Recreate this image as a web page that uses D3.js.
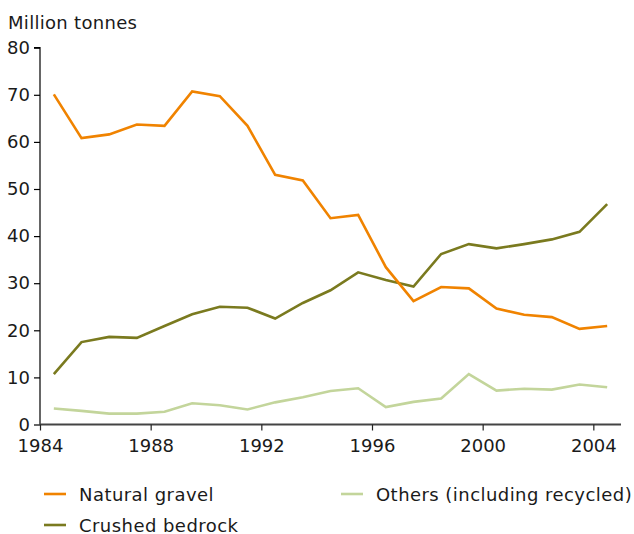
<!DOCTYPE html>
<html>
<head>
<meta charset="utf-8">
<script src="https://cdn.jsdelivr.net/npm/d3@7"></script>
<style>
  body { margin: 0; background: #fff; }
  svg text { font-family: "DejaVu Sans", Verdana, sans-serif; fill: #1a1a1a; }
</style>
</head>
<body>
<svg id="chart" width="634" height="534"></svg>
<script>
const years = d3.range(1984, 2005);
const naturalGravel = [70.1, 60.8, 61.6, 63.7, 63.4, 70.7, 69.7, 63.4, 53.0, 51.8, 43.8, 44.5, 33.4, 26.2, 29.2, 28.9, 24.6, 23.3, 22.8, 20.3, 20.9];
const crushedBedrock = [10.7, 17.5, 18.6, 18.4, 20.9, 23.4, 25.0, 24.8, 22.5, 25.8, 28.5, 32.3, 30.7, 29.3, 36.2, 38.3, 37.4, 38.3, 39.3, 40.9, 46.8];
const others = [3.4, 2.9, 2.3, 2.3, 2.7, 4.5, 4.1, 3.2, 4.7, 5.8, 7.1, 7.7, 3.7, 4.8, 5.5, 10.7, 7.2, 7.6, 7.4, 8.5, 7.9];
const seriesNames = ["Natural gravel", "Crushed bedrock", "Others (including recycled)"];
const seriesColors = ["#f08300", "#7a7a1f", "#c3d59b"];
const xTicks = [1984, 1988, 1992, 1996, 2000, 2004];
const yTicks = [0, 10, 20, 30, 40, 50, 60, 70, 80];
const yTitle = "Million tonnes";

const FS = "18px";
const svg = d3.select("#chart");
const margin = {left: 40, right: 13, top: 47.7, bottom: 109.5};
const W = 634, H = 534;
const x = d3.scaleLinear().domain([1984, 2005]).range([margin.left, W - margin.right]);
const y = d3.scaleLinear().domain([0, 80]).range([H - margin.bottom, margin.top]);

// y axis
const yAxis = svg.append("g")
  .attr("transform", `translate(${margin.left},0)`)
  .call(d3.axisLeft(y).tickValues(yTicks).tickSize(6).tickPadding(4).tickFormat(d3.format("d")));
yAxis.select(".domain").attr("stroke", "#000").attr("stroke-width", 1.2).attr("d", `M-6,${y(80)}H0V${y(0)}`);
yAxis.selectAll(".tick line").attr("stroke", "#000").attr("stroke-width", 1.2);
yAxis.selectAll(".tick text").style("font-size", FS).attr("fill", "#1a1a1a");

// x axis
const xAxis = svg.append("g")
  .attr("transform", `translate(0,${y(0)})`)
  .call(d3.axisBottom(x).tickValues(xTicks).tickSize(6).tickPadding(9).tickFormat(d3.format("d")));
xAxis.select(".domain").attr("stroke", "#444").attr("stroke-width", 2.2).attr("d", `M${x(1984)},0H${x(2005)}`);
xAxis.selectAll(".tick line").attr("stroke", "#222").attr("stroke-width", 1.2);
xAxis.selectAll(".tick text").style("font-size", FS).attr("fill", "#1a1a1a");

// title
svg.append("text").attr("x", 8).attr("y", 29).style("font-size", FS)
  .style("letter-spacing", "0.3px").text(yTitle);

// lines
const allSeries = [naturalGravel, crushedBedrock, others];
const line = d3.line().x((d, i) => x(years[i] + 0.5)).y(d => y(d));
[2, 1, 0].forEach(k => {
  svg.append("path")
    .datum(allSeries[k])
    .attr("fill", "none")
    .attr("stroke", seriesColors[k])
    .attr("stroke-width", 2.6)
    .attr("stroke-linejoin", "miter")
    .attr("d", line);
});

// legend
const legendPos = [[44, 494], [44, 525], [341, 494]];
seriesNames.forEach((name, k) => {
  const [lx, ly] = legendPos[k];
  svg.append("line").attr("x1", lx).attr("x2", lx + 22).attr("y1", ly).attr("y2", ly)
    .attr("stroke", seriesColors[k]).attr("stroke-width", 2.6);
  svg.append("text").attr("x", lx + 35).attr("y", ly + 6.5).style("font-size", FS)
    .style("letter-spacing", "0.45px").text(name);
});
</script>
</body>
</html>
